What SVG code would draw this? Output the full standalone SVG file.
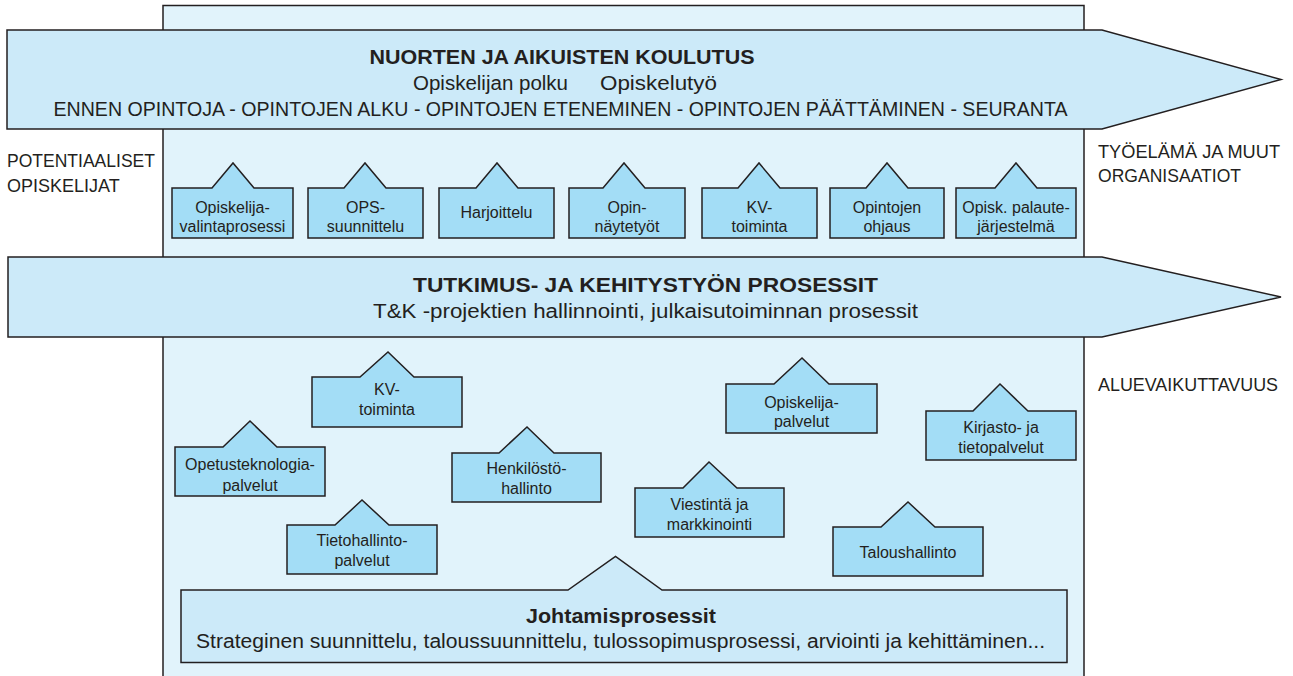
<svg xmlns="http://www.w3.org/2000/svg" width="1293" height="676" viewBox="0 0 1293 676">
<style>
text{font-family:"Liberation Sans",Arial,sans-serif;fill:#231f20;}
.bg{fill:#e1f3fb;stroke:#231f20;stroke-width:1.5;}
.arrow{fill:#cceaf9;stroke:#231f20;stroke-width:1.5;}
.box{fill:#a3ddf6;stroke:#231f20;stroke-width:1.5;}
.lbl{font-size:16px;text-anchor:middle;}
.big{font-size:19.5px;text-anchor:middle;}
.bold{font-weight:bold;}
.side{font-size:18px;}
</style>
<rect class="bg" x="163" y="5.5" width="921" height="690"/>

<g id="arrow-koulutus">
<path class="arrow" d="M7,30 L1102,30 L1281,79.5 L1102,129 L7,129 Z"/>
<text class="big bold" x="562" y="64" textLength="385" lengthAdjust="spacingAndGlyphs">NUORTEN JA AIKUISTEN KOULUTUS</text>
<text class="big" y="90"><tspan x="490.5" textLength="155" lengthAdjust="spacingAndGlyphs">Opiskelijan polku</tspan><tspan x="658.5" textLength="117" lengthAdjust="spacingAndGlyphs">Opiskelutyö</tspan></text>
<text class="big" x="560.5" y="116" textLength="1014" lengthAdjust="spacingAndGlyphs">ENNEN OPINTOJA - OPINTOJEN ALKU - OPINTOJEN ETENEMINEN - OPINTOJEN PÄÄTTÄMINEN - SEURANTA</text>
</g>

<g id="label-potentiaaliset">
<text class="side" x="7" y="167" textLength="148" lengthAdjust="spacingAndGlyphs">POTENTIAALISET</text>
<text class="side" x="7" y="192">OPISKELIJAT</text>
</g>
<g id="label-tyoelama">
<text class="side" x="1098" y="157.5" textLength="182" lengthAdjust="spacingAndGlyphs">TYÖELÄMÄ JA MUUT</text>
<text class="side" x="1098" y="181.5" textLength="143" lengthAdjust="spacingAndGlyphs">ORGANISAATIOT</text>
</g>
<g id="label-aluevaikuttavuus">
<text class="side" x="1098" y="391" textLength="180" lengthAdjust="spacingAndGlyphs">ALUEVAIKUTTAVUUS</text>
</g>

<g id="opiskelijavalinta">
<path class="box" d="M172,188 L212,188 L233,163 L254,188 L293,188 L293,238 L172,238 Z"/>
<text class="lbl" x="232.5" y="213">Opiskelija-</text>
<text class="lbl" x="232.5" y="232">valintaprosessi</text>
</g>
<g id="ops">
<path class="box" d="M308,188 L344,188 L365,163 L386,188 L423,188 L423,238 L308,238 Z"/>
<text class="lbl" x="365.5" y="213">OPS-</text>
<text class="lbl" x="365.5" y="232">suunnittelu</text>
</g>
<g id="harjoittelu">
<path class="box" d="M439,188 L476,188 L497,163 L518,188 L554,188 L554,238 L439,238 Z"/>
<text class="lbl" x="496.5" y="218">Harjoittelu</text>
</g>
<g id="opinnaytetyot">
<path class="box" d="M569,188 L603,188 L624,163 L645,188 L685,188 L685,238 L569,238 Z"/>
<text class="lbl" x="627" y="213">Opin-</text>
<text class="lbl" x="627" y="232">näytetyöt</text>
</g>
<g id="kv-toiminta-1">
<path class="box" d="M702,188 L738,188 L759,163 L780,188 L817,188 L817,238 L702,238 Z"/>
<text class="lbl" x="759.5" y="213">KV-</text>
<text class="lbl" x="759.5" y="232">toiminta</text>
</g>
<g id="opintojen-ohjaus">
<path class="box" d="M830,188 L866,188 L887,163 L908,188 L944,188 L944,238 L830,238 Z"/>
<text class="lbl" x="887" y="213">Opintojen</text>
<text class="lbl" x="887" y="232">ohjaus</text>
</g>
<g id="palautejarjestelma">
<path class="box" d="M956,188 L995,188 L1016,163 L1037,188 L1076,188 L1076,238 L956,238 Z"/>
<text class="lbl" x="1016" y="213">Opisk. palaute-</text>
<text class="lbl" x="1016" y="232">järjestelmä</text>
</g>

<g id="arrow-tk">
<path class="arrow" d="M8,257 L1102,257 L1281,297 L1102,337 L8,337 Z"/>
<text class="big bold" x="645.5" y="291.5" textLength="465" lengthAdjust="spacingAndGlyphs">TUTKIMUS- JA KEHITYSTYÖN PROSESSIT</text>
<text class="big" x="645.5" y="318" textLength="545" lengthAdjust="spacingAndGlyphs">T&amp;K -projektien hallinnointi, julkaisutoiminnan prosessit</text>
</g>

<g id="kv-toiminta-2">
<path class="box" d="M312,377 L360,377 L388,352 L414,377 L462,377 L462,427 L312,427 Z"/>
<text class="lbl" x="387" y="395">KV-</text>
<text class="lbl" x="387" y="415">toiminta</text>
</g>
<g id="opetusteknologia">
<path class="box" d="M175,447 L223,447 L250,421 L277,447 L325,447 L325,496 L175,496 Z"/>
<text class="lbl" x="250" y="470">Opetusteknologia-</text>
<text class="lbl" x="250" y="491">palvelut</text>
</g>
<g id="henkilosto">
<path class="box" d="M452,453 L499,453 L527,427 L554,453 L601,453 L601,502 L452,502 Z"/>
<text class="lbl" x="526.5" y="474">Henkilöstö-</text>
<text class="lbl" x="526.5" y="494">hallinto</text>
</g>
<g id="opiskelijapalvelut">
<path class="box" d="M726,384 L774,384 L802,358 L829,384 L877,384 L877,433 L726,433 Z"/>
<text class="lbl" x="801.5" y="407.5">Opiskelija-</text>
<text class="lbl" x="801.5" y="427">palvelut</text>
</g>
<g id="kirjasto">
<path class="box" d="M926,411 L973,411 L1000,384 L1028,411 L1076,411 L1076,460 L926,460 Z"/>
<text class="lbl" x="1001" y="433">Kirjasto- ja</text>
<text class="lbl" x="1001" y="453">tietopalvelut</text>
</g>
<g id="viestinta">
<path class="box" d="M635,488 L683,488 L709,462 L737,488 L784,488 L784,537 L635,537 Z"/>
<text class="lbl" x="709.5" y="510">Viestintä ja</text>
<text class="lbl" x="709.5" y="530">markkinointi</text>
</g>
<g id="taloushallinto">
<path class="box" d="M833,527 L881,527 L908,502 L935,527 L983,527 L983,576 L833,576 Z"/>
<text class="lbl" x="908" y="558">Taloushallinto</text>
</g>
<g id="tietohallinto">
<path class="box" d="M287,525 L335,525 L362,500 L389,525 L437,525 L437,574 L287,574 Z"/>
<text class="lbl" x="362" y="546">Tietohallinto-</text>
<text class="lbl" x="362" y="566">palvelut</text>
</g>

<g id="johtamisprosessit">
<path class="arrow" d="M181,590 L568,590 L615.5,556.5 L662,590 L1067,590 L1067,662.5 L181,662.5 Z"/>
<text class="big bold" x="621" y="623" textLength="190" lengthAdjust="spacingAndGlyphs">Johtamisprosessit</text>
<text class="big" x="620.5" y="648" textLength="849" lengthAdjust="spacingAndGlyphs">Strateginen suunnittelu, taloussuunnittelu, tulossopimusprosessi, arviointi ja kehittäminen...</text>
</g>
</svg>
